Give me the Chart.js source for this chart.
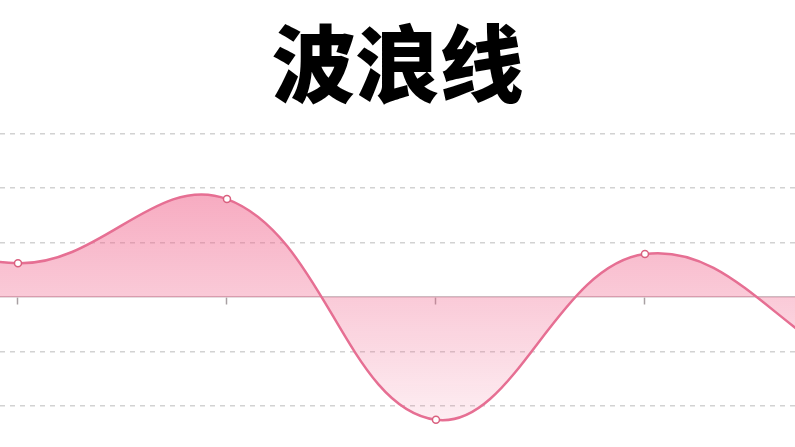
<!DOCTYPE html>
<html>
<head>
<meta charset="utf-8">
<title>波浪线</title>
<script src="https://cdn.jsdelivr.net/npm/chart.js@4.4.1/dist/chart.umd.min.js"></script>
<style>
  html, body { margin: 0; padding: 0; background: #ffffff; overflow: hidden; }
  #wrap { position: relative; width: 795px; height: 447px; overflow: hidden; }
</style>
</head>
<body>
<div id="wrap"><canvas id="waveChart"></canvas></div>
<script>
'use strict';

/** @desc Positions of the points along the wave (the ends sit off screen) */
const POSITIONS = [-1, 0, 1, 2, 3, 4];

/** @desc Height of the wave at every position */
const WAVE = [2.0, 0.62, 1.8, -2.26, 0.79, -1.3];

/** @desc Values that get a dashed guide line */
const Y_TICKS = [-2, -1, 0, 1, 2, 3];

/** @desc Title of the picture */
const TITLE = '波浪线';

const LINE_COLOR = '#e66f93';

/** @desc Pink fill that fades towards the bottom */
function waveFill(context) {
  const chart = context.chart;
  const area = chart.chartArea;
  if (!area) {
    return 'rgba(240, 100, 140, 0.4)';
  }
  const gradient = chart.ctx.createLinearGradient(0, area.top + 50, 0, area.bottom);
  gradient.addColorStop(0, 'rgba(240, 100, 140, 0.56)');
  gradient.addColorStop(0.43, 'rgba(240, 100, 140, 0.34)');
  gradient.addColorStop(1, 'rgba(240, 100, 140, 0.06)');
  return gradient;
}

/** @desc The points outside the picture get no marker */
function isEdge(ctx) {
  return ctx.dataIndex === 0 || ctx.dataIndex === POSITIONS.length - 1;
}

const DATA = {
  datasets: [{
    data: POSITIONS.map((x, i) => ({x: x, y: WAVE[i]})),
    borderColor: LINE_COLOR,
    borderWidth: 2.5,
    backgroundColor: waveFill,
    fill: 'origin',
    tension: 0.4,
    pointRadius: (ctx) => (isEdge(ctx) ? 0 : 3.5),
    pointBorderWidth: (ctx) => (isEdge(ctx) ? 0 : 1.5),
    pointBackgroundColor: '#ffffff',
    pointBorderColor: '#d9607f'
  }]
};

const SCALES = {
  x: {
    type: 'linear',
    min: -0.086,
    max: 3.718,
    position: {y: 0},
    ticks: {display: false, stepSize: 1, includeBounds: false},
    grid: {
      drawOnChartArea: false,
      drawTicks: true,
      tickLength: 7,
      tickWidth: 1.5,
      tickColor: '#a8a0a3'
    },
    border: {display: true, color: '#cdb9bf', width: 1.5}
  },
  y: {
    min: -2.76,
    max: 3,
    afterBuildTicks: (scale) => {
      scale.ticks = Y_TICKS.map((v) => ({value: v}));
    },
    ticks: {display: false},
    grid: {
      drawTicks: false,
      color: (ctx) => (ctx.tick && ctx.tick.value === 0 ? 'rgba(0,0,0,0)' : '#d2d2d2'),
      lineWidth: 1.5
    },
    border: {display: false, dash: [5, 5]}
  }
};

const PLUGINS = {
  legend: {display: false},
  tooltip: {enabled: false},
  title: {
    display: true,
    text: TITLE,
    color: '#000000',
    font: {family: '"Noto Sans CJK SC", sans-serif', size: 84, weight: 900, lineHeight: 1.2},
    padding: {top: 14, bottom: 19}
  }
};

const CONFIG = {
  type: 'line',
  data: DATA,
  options: {
    responsive: true,
    maintainAspectRatio: false,
    animation: false,
    layout: {padding: 0},
    plugins: PLUGINS,
    scales: SCALES
  }
};

const CTX = document.getElementById('waveChart').getContext('2d');
const waveChart = new Chart(CTX, CONFIG);
</script>
</body>
</html>
